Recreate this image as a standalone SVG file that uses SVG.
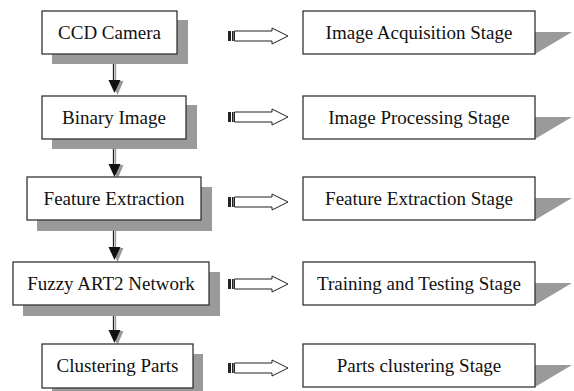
<svg xmlns="http://www.w3.org/2000/svg" xmlns:xlink="http://www.w3.org/1999/xlink" width="574" height="391" viewBox="0 0 574 391">
<style>
.box{fill:#fff;stroke:#333;stroke-width:1.3}
.sh{fill:#9a9a9a}
.t{font-family:"Liberation Serif","Times New Roman",serif;font-size:19px;fill:#111;text-anchor:middle}
.ar{fill:#fff;stroke:#222;stroke-width:1}
</style>
<defs>
<g id="rarrow">
<rect x="228" y="-5" width="3" height="10" fill="#222"/>
<rect x="232" y="-5" width="1.6" height="10" fill="#222"/>
<path class="ar" d="M234.5,-5 H272 V-8 L288,0 L272,8 V5 H234.5 Z"/>
</g>
<g id="darrow">
<line x1="1" y1="0" x2="1" y2="17" stroke="#999" stroke-width="1.3"/>
<line x1="-1" y1="0" x2="-1" y2="17" stroke="#222" stroke-width="1.3"/>
<polygon points="-3,17 9,17 3,31" fill="#999"/>
<polygon points="-6,16 6,16 0,29" fill="#111"/>
</g>
</defs>
<g id="connectors">
<use xlink:href="#darrow" transform="translate(114.5,64)"/>
<use xlink:href="#darrow" transform="translate(114.5,148)"/>
<use xlink:href="#darrow" transform="translate(114.5,231)"/>
<use xlink:href="#darrow" transform="translate(114.5,314)"/>
<use xlink:href="#rarrow" transform="translate(0,36)"/>
<use xlink:href="#rarrow" transform="translate(0,117)"/>
<use xlink:href="#rarrow" transform="translate(0,202)"/>
<use xlink:href="#rarrow" transform="translate(0,284)"/>
<use xlink:href="#rarrow" transform="translate(0,368)"/>
</g>
<g id="n1">
<rect class="sh" x="52" y="20" width="136" height="44"/>
<rect class="box" x="42" y="11" width="135" height="43"/>
<text class="t" x="109.5" y="39">CCD Camera</text>
</g>
<g id="n2">
<rect class="sh" x="52" y="105" width="145" height="44"/>
<rect class="box" x="42" y="96" width="144" height="43"/>
<text class="t" x="114" y="124">Binary Image</text>
</g>
<g id="n3">
<rect class="sh" x="37" y="187" width="175" height="44"/>
<rect class="box" x="27" y="177" width="174" height="43"/>
<text class="t" x="114" y="205">Feature Extraction</text>
</g>
<g id="n4">
<rect class="sh" x="23" y="272" width="197" height="44"/>
<rect class="box" x="13" y="262" width="196" height="43"/>
<text class="t" x="111" y="290">Fuzzy ART2 Network</text>
</g>
<g id="n5">
<rect class="sh" x="52" y="354" width="151" height="44"/>
<rect class="box" x="42" y="344" width="151" height="44"/>
<text class="t" x="117.5" y="372">Clustering Parts</text>
</g>
<g id="s1">
<polygon class="sh" points="535,32 572,32 535,54"/>
<rect class="box" x="303" y="11" width="232" height="43"/>
<text class="t" x="419" y="39">Image Acquisition Stage</text>
</g>
<g id="s2">
<polygon class="sh" points="535,117 572,117 535,139"/>
<rect class="box" x="303" y="96" width="232" height="43"/>
<text class="t" x="419" y="124">Image Processing Stage</text>
</g>
<g id="s3">
<polygon class="sh" points="535,198 572,198 535,220"/>
<rect class="box" x="303" y="177" width="232" height="43"/>
<text class="t" x="419" y="205">Feature Extraction Stage</text>
</g>
<g id="s4">
<polygon class="sh" points="535,283 572,283 535,305"/>
<rect class="box" x="303" y="262" width="232" height="43"/>
<text class="t" x="419" y="290">Training and Testing Stage</text>
</g>
<g id="s5">
<polygon class="sh" points="535,365 572,365 535,387"/>
<rect class="box" x="303" y="344" width="232" height="43"/>
<text class="t" x="419" y="372">Parts clustering Stage</text>
</g>
</svg>
